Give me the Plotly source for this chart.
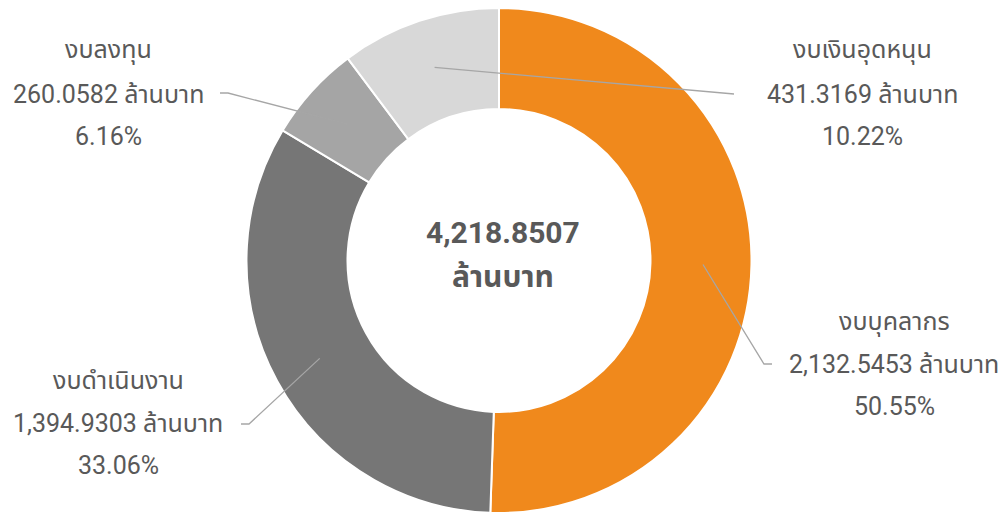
import math
import plotly.graph_objects as go

# Budget breakdown (million baht)
categories = ["งบบุคลากร", "งบดำเนินงาน", "งบลงทุน", "งบเงินอุดหนุน"]
amounts = [2132.5453, 1394.9303, 260.0582, 431.3169]
percents = ["50.55%", "33.06%", "6.16%", "10.22%"]
colors = ["#F0891C", "#767676", "#A5A5A5", "#D8D8D8"]
total_text = "4,218.8507"
unit = "ล้านบาท"

W, H = 1003, 513
CX, CY = 499, 261          # donut centre (px)
R = 253                    # outer radius (px)
HOLE = 0.6

FONT = "Roboto, 'Noto Sans Thai', 'Noto Sans', sans-serif"
TXT = "#595959"
LINE = "#A6A6A6"


def px(x):
    return x / W


def py(y):
    return 1 - y / H


fig = go.Figure(
    go.Pie(
        labels=categories,
        values=amounts,
        hole=HOLE,
        sort=False,
        direction="clockwise",
        rotation=0,
        marker=dict(colors=colors, line=dict(color="white", width=2)),
        textinfo="none",
        hoverinfo="label+value+percent",
        domain=dict(x=[px(CX - R), px(CX + R)], y=[max(0, py(CY + R)), py(CY - R)]),
        showlegend=False,
    )
)

# label block placement: (centre x, y of each of the three lines, elbow points)
label_layout = [
    dict(x=894, ys=[322, 364, 406], elbow=[(764, 364), (772, 364)]),
    dict(x=118, ys=[380, 423, 465], elbow=[(249, 424), (241, 424)]),
    dict(x=108, ys=[50, 94, 136], elbow=[(228, 93), (220, 93)]),
    dict(x=862, ys=[50, 94, 136], elbow=[(734, 94)]),
]

annotations = []
shapes = []
total = sum(amounts)
cum = 0.0
r_anchor = 204
for name, amt, pct, lay in zip(categories, amounts, percents, label_layout):
    mid = (cum + amt / 2) / total * 2 * math.pi
    cum += amt
    ax = CX + r_anchor * math.sin(mid)
    ay = CY - r_anchor * math.cos(mid)
    pts = [(ax, ay)] + lay["elbow"]
    path = "M " + " L ".join(f"{px(x):.5f},{py(y):.5f}" for x, y in pts)
    shapes.append(dict(type="path", xref="paper", yref="paper", path=path,
                       line=dict(color=LINE, width=1.3)))
    lines = [name, f"{amt:,.4f} {unit}", pct]
    for t, y in zip(lines, lay["ys"]):
        annotations.append(dict(text=t, x=px(lay["x"]), y=py(y), xref="paper", yref="paper",
                                xanchor="center", yanchor="middle", showarrow=False,
                                font=dict(family=FONT, size=25, color=TXT)))

# centre total
for t, y in [(total_text, 232), (unit, 276)]:
    annotations.append(dict(text=f"<b>{t}</b>", x=px(CX + 4), y=py(y), xref="paper", yref="paper",
                            xanchor="center", yanchor="middle", showarrow=False,
                            font=dict(family=FONT, size=30, color=TXT)))

fig.update_layout(
    width=W, height=H,
    margin=dict(l=0, r=0, t=0, b=0),
    paper_bgcolor="white", plot_bgcolor="white",
    annotations=annotations, shapes=shapes,
)

fig.write_html("out.html")
